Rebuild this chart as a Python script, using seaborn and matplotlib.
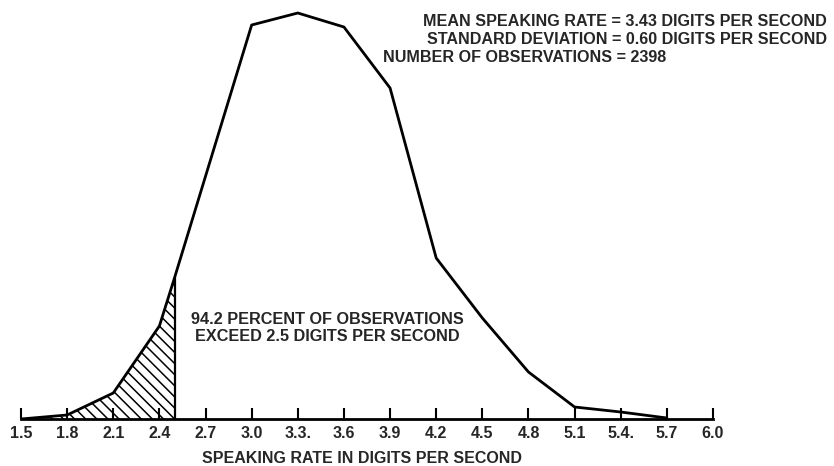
import matplotlib
matplotlib.use('Agg')
import matplotlib.pyplot as plt
import seaborn as sns

# speaking rate distribution (digits per second), relative frequency
rates = [1.5, 1.8, 2.1, 2.4, 2.5, 3.0, 3.3, 3.6, 3.9, 4.2, 4.5, 4.8, 5.1, 5.4, 5.7]
freq = [0, 4, 26, 93, 142, 394, 406, 392, 331, 161, 101, 47, 12, 7, 1]

tick_vals = [1.5, 1.8, 2.1, 2.4, 2.7, 3.0, 3.3, 3.6, 3.9, 4.2, 4.5, 4.8, 5.1, 5.4, 5.7, 6.0]
tick_labels = ['1.5', '1.8', '2.1', '2.4', '2.7', '3.0', '3.3.', '3.6', '3.9', '4.2',
               '4.5', '4.8', '5.1', '5.4.', '5.7', '6.0']

cutoff = 2.5

sns.set_style('white')
plt.rcParams['font.family'] = ['Liberation Sans', 'DejaVu Sans']
plt.rcParams['hatch.linewidth'] = 1.1

fig = plt.figure(figsize=(8.34, 4.66), dpi=100)
ax = fig.add_axes([21 / 834, 47 / 466, 692 / 834, 419 / 466])

sns.lineplot(x=rates, y=freq, color='black', linewidth=2.0, ax=ax)

# hatched region below the cutoff
n_cut = rates.index(cutoff) + 1
ax.fill_between(rates[:n_cut], freq[:n_cut], 0, facecolor='none', edgecolor='black',
                hatch='\\\\\\', linewidth=0)
ax.vlines(cutoff, 0, freq[n_cut - 1], color='black', linewidth=1.6)

ax.set_xlim(1.5, 6.0)
ax.set_ylim(0, 419)
ax.set_yticks([])
ax.set_xticks(tick_vals)
ax.set_xticklabels(tick_labels, fontsize=11.5, fontweight='bold')
ax.tick_params(axis='x', direction='in', length=8, width=1.5, color='black', pad=5, bottom=True)
for s in ['top', 'right', 'left']:
    ax.spines[s].set_visible(False)
ax.spines['bottom'].set_linewidth(2)
ax.spines['bottom'].set_color('black')
ax.set_xlabel('')

fig.text(362 / 834, 1 - 463 / 466, 'SPEAKING RATE IN DIGITS PER SECOND', ha='center', va='baseline',
         fontsize=11.5, fontweight='bold')

fig.text(827 / 834, 1 - 21 / 466, 'MEAN SPEAKING RATE = 3.43 DIGITS PER SECOND', ha='right', va='center',
         fontsize=11.6, fontweight='bold')
fig.text(827 / 834, 1 - 39 / 466, 'STANDARD DEVIATION = 0.60 DIGITS PER SECOND', ha='right', va='center',
         fontsize=11.6, fontweight='bold')
fig.text(383 / 834, 1 - 57 / 466, 'NUMBER OF OBSERVATIONS = 2398', ha='left', va='center',
         fontsize=11.6, fontweight='bold')

fig.text(327 / 834, 1 - 328 / 466, '94.2 PERCENT OF OBSERVATIONS\nEXCEED 2.5 DIGITS PER SECOND',
         ha='center', va='center', fontsize=11.7, fontweight='bold', linespacing=1.2)

plt.savefig('out.png', dpi=100)
